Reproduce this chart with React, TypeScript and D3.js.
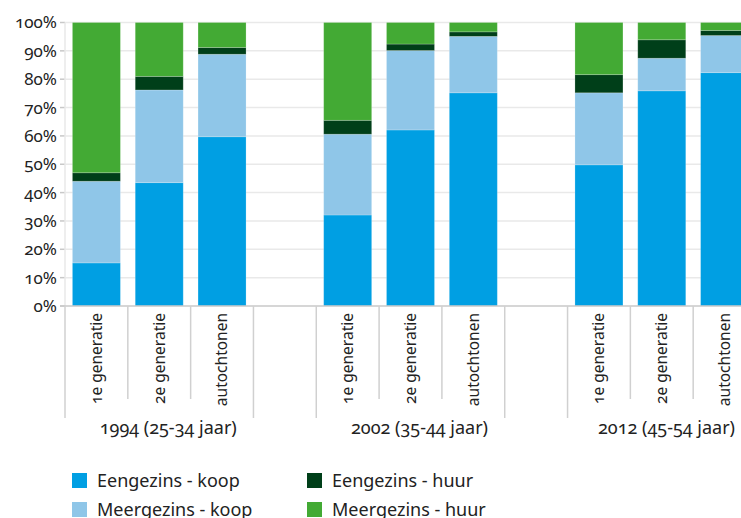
import React from "react";
import * as d3 from "d3";

const groups = ["1994 (25-34 jaar)", "2002 (35-44 jaar)", "2012 (45-54 jaar)"];
const categories = ["1e generatie", "2e generatie", "autochtonen"];
const seriesNames = ["Eengezins - koop", "Meergezins - koop", "Eengezins - huur", "Meergezins - huur"];
const seriesColors = ["#009fe3", "#8fc6e8", "#003f19", "#43aa34"];

// values per bar, in order: 1994 (1e, 2e, autochtonen), 2002 (...), 2012 (...)
const eengezinsKoop = [15.2, 43.5, 59.7, 32.1, 62.1, 75.2, 49.8, 75.9, 82.3];
const meergezinsKoop = [28.8, 32.7, 29.1, 28.5, 28.0, 19.9, 25.4, 11.5, 13.1];
const eengezinsHuur = [3.0, 4.8, 2.4, 4.9, 2.3, 1.6, 6.4, 6.5, 1.8];
const meergezinsHuur = [53.0, 19.0, 8.8, 34.5, 7.6, 3.3, 18.4, 6.1, 2.8];

const yTicks = [0, 10, 20, 30, 40, 50, 60, 70, 80, 90, 100];

const W = 741;
const H = 518;
const FONT = "'Noto Sans', 'Open Sans', sans-serif";

export default function App() {
  const seriesValues = [eengezinsKoop, meergezinsKoop, eengezinsHuur, meergezinsHuur];

  // slots: 3 bars per group, with an empty slot between groups
  const slots: string[] = [];
  groups.forEach((g, gi) => {
    categories.forEach((c) => slots.push(`${g}|${c}`));
    if (gi < groups.length - 1) slots.push(`gap${gi}`);
  });

  const left = 65;
  const right = 756;
  const top = 22.5;
  const bottom = 306;

  const x = d3.scaleBand<string>().domain(slots).range([left, right]).padding(0);
  const step = x.bandwidth();
  const barW = 48;
  const y = d3.scaleLinear().domain([0, 100]).range([bottom, top]);

  const rows = groups.flatMap((g, gi) =>
    categories.map((c, ci) => {
      const idx = gi * categories.length + ci;
      const row: any = { key: `${g}|${c}` };
      seriesNames.forEach((s, si) => (row[s] = seriesValues[si][idx]));
      return row;
    })
  );
  const stacked = d3.stack<any>().keys(seriesNames)(rows);

  // separators on the category axis
  const seps: { x: number; long: boolean }[] = [];
  slots.forEach((s, i) => {
    const prevIsGroupBoundary = i === 0 || s.startsWith("gap") || slots[i - 1].startsWith("gap");
    seps.push({ x: x(s)!, long: prevIsGroupBoundary });
  });
  seps.push({ x: right, long: true });

  return (
    <svg
      width={W}
      height={H}
      style={{ position: "absolute", left: 0, top: 0, background: "#fff" }}
      fontFamily={FONT}
    >
      {/* gridlines */}
      {yTicks.map((t) => (
        <g key={t}>
          {t > 0 && (
            <line x1={left} x2={W} y1={y(t)} y2={y(t)} stroke="#e9e9e9" strokeWidth={1.5} />
          )}
          <line x1={left - 5} x2={left} y1={y(t)} y2={y(t)} stroke="#c8c8c8" strokeWidth={1.5} />
          <text
            x={57}
            y={y(t)}
            dy="0.35em"
            textAnchor="end"
            fontSize={17}
            fill="#222"
            style={{ fontVariantNumeric: "oldstyle-nums" }}
          >
            {t}%
          </text>
        </g>
      ))}
      <line x1={left} x2={left} y1={top} y2={bottom} stroke="#e9e9e9" strokeWidth={1.5} />

      {/* bars */}
      {stacked.map((layer, si) => (
        <g key={layer.key} fill={seriesColors[si]}>
          {layer.map((d: any) => (
            <rect
              key={d.data.key}
              x={x(d.data.key)! + (step - barW) / 2}
              width={barW}
              y={y(d[1])}
              height={y(d[0]) - y(d[1])}
              stroke="#ffffff"
              strokeOpacity={0.25}
              strokeWidth={0.8}
            />
          ))}
        </g>
      ))}

      {/* baseline */}
      <line x1={left - 5} x2={W} y1={bottom} y2={bottom} stroke="#c8c8c8" strokeWidth={1.5} />

      {/* category separators */}
      {seps.map((s, i) => (
        <line
          key={i}
          x1={s.x}
          x2={s.x}
          y1={bottom}
          y2={s.long ? 418 : 399}
          stroke="#d0d0d0"
          strokeWidth={1.5}
        />
      ))}

      {/* category labels */}
      {rows.map((r) => {
        const cx = x(r.key)! + step / 2;
        const label = r.key.split("|")[1];
        return (
          <text
            key={r.key}
            transform={`translate(${cx},${313}) rotate(-90)`}
            textAnchor="end"
            dy="0.35em"
            fontSize={15.5}
            fill="#222"
            style={{ fontVariantNumeric: "oldstyle-nums" }}
          >
            {label}
          </text>
        );
      })}

      {/* group labels */}
      {groups.map((g, gi) => {
        const first = x(`${g}|${categories[0]}`)!;
        const last = x(`${g}|${categories[categories.length - 1]}`)! + step;
        const center = (first + last) / 2 + 9;
        const isLast = gi === groups.length - 1;
        return (
          <text
            key={g}
            x={isLast ? 735 : center}
            y={434}
            textAnchor={isLast ? "end" : "middle"}
            fontSize={18}
            fill="#222"
            style={{ fontVariantNumeric: "oldstyle-nums" }}
          >
            {g}
          </text>
        );
      })}

      {/* legend */}
      {seriesNames.map((s, i) => {
        const col = i === 0 || i === 1 ? 0 : 1;
        const row = i === 0 || i === 2 ? 0 : 1;
        const lx = col === 0 ? 72 : 307;
        const ly = 473 + row * 29;
        return (
          <g key={s}>
            <rect x={lx} y={ly} width={15} height={15} fill={seriesColors[i]} />
            <text x={lx + 25} y={ly + 14} fontSize={18} fill="#222">
              {s}
            </text>
          </g>
        );
      })}
    </svg>
  );
}
